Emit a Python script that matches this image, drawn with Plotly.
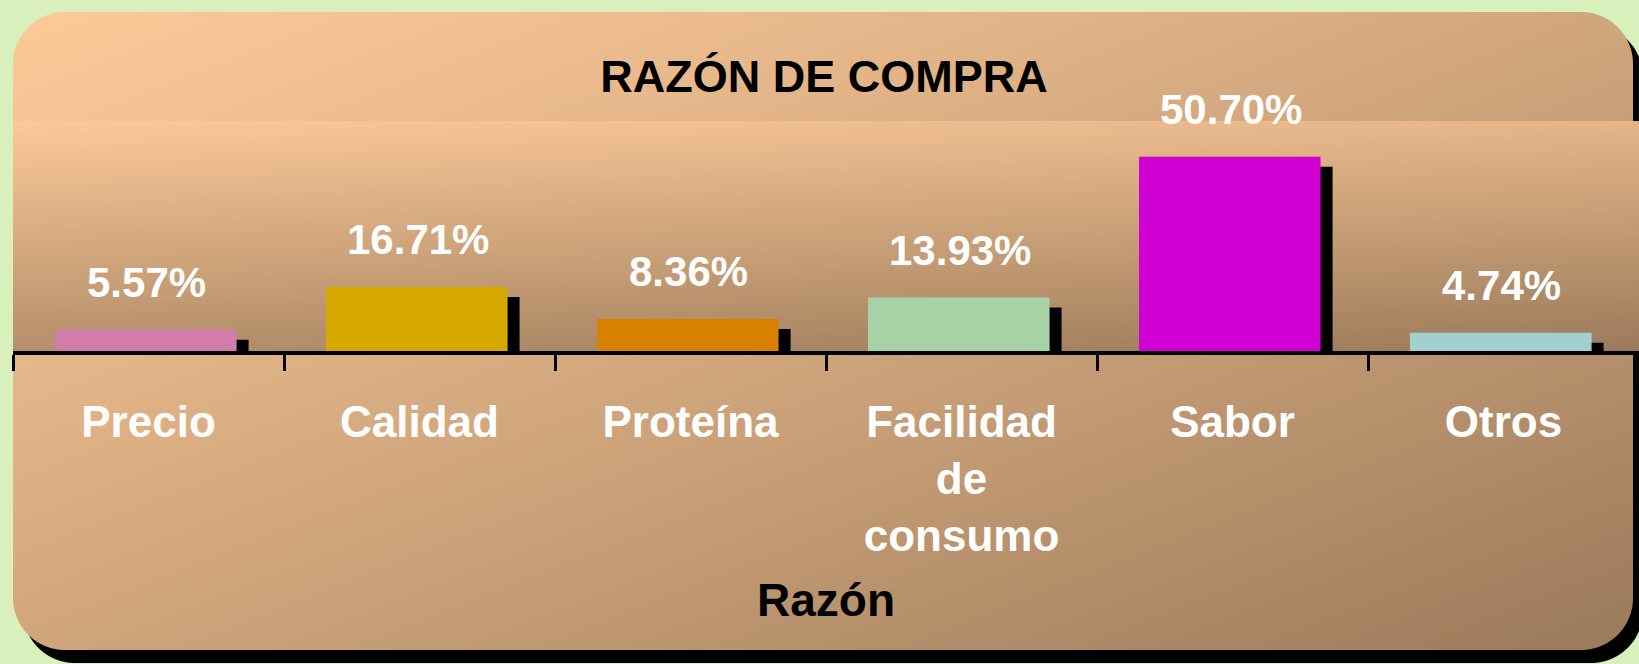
import base64
import struct
import zlib

import numpy as np
import plotly.graph_objects as go

# ---------------- data ----------------
categories = ["Precio", "Calidad", "Proteína", "Facilidad de consumo", "Sabor", "Otros"]
tick_labels = ["Precio", "Calidad", "Proteína", "Facilidad<br>de<br>consumo", "Sabor", "Otros"]
values = [5.57, 16.71, 8.36, 13.93, 50.70, 4.74]
value_labels = ["5.57%", "16.71%", "8.36%", "13.93%", "50.70%", "4.74%"]
bar_colors = ["#D27CAA", "#D6A800", "#D88000", "#A6D2A6", "#D000D4", "#A0D0D0"]

title_text = "RAZÓN DE COMPRA"
x_title = "Razón"

# ---------------- styling ----------------
W, H = 1639, 664
FONT = "Liberation Sans, Arial, sans-serif"
GREEN = (218, 240, 188)
C_LIGHT = np.array([252, 201, 152], dtype=float)
C_DARK = np.array([154, 122, 90], dtype=float)

PLOT_LEFT, PLOT_TOP, PLOT_BOTTOM = 13, 121, 351
Y_MAX = 60.0
px_per_unit = (PLOT_BOTTOM - PLOT_TOP) / Y_MAX
shadow_drop = 10 / px_per_unit          # shadow bar top is 10px lower
cat_px = (W - PLOT_LEFT) / len(categories)
shadow_dx = 12 / cat_px                 # shadow bar shifted 12px right
bar_w = 0.67
bar_off = -0.345


def png_data_uri(arr):
    h, w, _ = arr.shape
    raw = b"".join(b"\x00" + arr[i].tobytes() for i in range(h))

    def chunk(t, d):
        return struct.pack(">I", len(d)) + t + d + struct.pack(">I", zlib.crc32(t + d) & 0xFFFFFFFF)

    ihdr = struct.pack(">IIBBBBB", w, h, 8, 2, 0, 0, 0)
    png = b"\x89PNG\r\n\x1a\n" + chunk(b"IHDR", ihdr) + chunk(b"IDAT", zlib.compress(raw, 9)) + chunk(b"IEND", b"")
    return "data:image/png;base64," + base64.b64encode(png).decode()


def rrect_cov(X, Y, x0, y0, x1, y1, r):
    cx = np.clip(X, x0 + r, x1 - r)
    cy = np.clip(Y, y0 + r, y1 - r)
    d = np.hypot(X - cx, Y - cy)
    return np.clip(r - d + 0.5, 0, 1)[..., None]


ys, xs = np.mgrid[0:H, 0:W].astype(float)
X, Y = xs + 0.5, ys + 0.5
img = np.empty((H, W, 3), dtype=float)
img[:] = GREEN

# outer rounded box with shadow
ox0, oy0, ox1, oy1, rad = 13, 12, 1633, 650, 52
sh = rrect_cov(X, Y, ox0 + 10, oy0 + 13, ox1 + 10, oy1 + 13, rad)
img = img * (1 - sh)
t = ((X - ox0) / (ox1 - ox0) + (Y - oy0) / (oy1 - oy0)) / 2
t = np.clip(t, 0, 1) ** 1.15
grad = C_LIGHT + (C_DARK - C_LIGHT) * t[..., None]
cov = rrect_cov(X, Y, ox0, oy0, ox1, oy1, rad)
img = img * (1 - cov) + grad * cov

# inner panel (plot background)
px0, py0, px1, py1 = 13, 121, W, 355
t2 = 0.25 * (X - px0) / (px1 - px0) + 0.75 * (Y - py0) / (py1 - py0)
grad2 = C_LIGHT + (C_DARK - C_LIGHT) * np.clip(t2, 0, 1)[..., None]
mask = ((X >= px0) & (X <= px1) & (Y >= py0) & (Y <= py1))[..., None]
img = np.where(mask, grad2, img)

bg_uri = png_data_uri(np.clip(img, 0, 255).round().astype(np.uint8))

# ---------------- figure ----------------
fig = go.Figure()

fig.add_trace(go.Bar(
    x=categories, y=[v - shadow_drop for v in values],
    width=bar_w, offset=bar_off + shadow_dx,
    marker=dict(color="black", line=dict(width=0)),
    hoverinfo="skip", showlegend=False,
))
fig.add_trace(go.Bar(
    x=categories, y=values,
    width=bar_w, offset=bar_off,
    marker=dict(color=bar_colors, line=dict(width=0)),
    showlegend=False,
))

for c, v, lab in zip(categories, values, value_labels):
    fig.add_annotation(
        x=c, y=v, xref="x", yref="y", text=lab, showarrow=False,
        yanchor="middle", xanchor="center", yshift=47, xshift=-2,
        font=dict(family=FONT, size=42, color="white", weight="bold"),
    )

fig.add_annotation(
    x=826 / W, y=1 - 600 / H, xref="paper", yref="paper", text=x_title,
    showarrow=False, xanchor="center", yanchor="middle",
    font=dict(family=FONT, size=46, color="black", weight="bold"),
)

fig.update_layout(
    width=W, height=H,
    margin=dict(l=0, r=0, t=0, b=0),
    paper_bgcolor="rgb(218,240,188)",
    plot_bgcolor="rgba(0,0,0,0)",
    barmode="overlay",
    title=dict(
        text=title_text, x=824 / W, y=1 - 76 / H, xanchor="center", yanchor="middle",
        xref="paper", yref="paper",
        font=dict(family=FONT, size=45, color="black", weight="bold"),
    ),
    xaxis=dict(
        domain=[PLOT_LEFT / W, 1], type="category", range=[-0.5, 5.5],
        tickmode="array", tickvals=categories, ticktext=tick_labels,
        tickson="boundaries", ticks="outside", ticklen=16, tickwidth=3, tickcolor="black",
        showline=True, linecolor="black", linewidth=4, showgrid=False,
        tickfont=dict(family=FONT, size=44, color="white", weight="bold"),
        ticklabelstandoff=29,
    ),
    yaxis=dict(
        domain=[1 - PLOT_BOTTOM / H, 1 - PLOT_TOP / H], range=[0, Y_MAX],
        visible=False, showgrid=False,
    ),
    images=[dict(
        source=bg_uri, xref="paper", yref="paper", x=0, y=1, sizex=1, sizey=1,
        xanchor="left", yanchor="top", sizing="stretch", layer="below",
    )],
)

fig.write_html(
    "out.html",
    config={"displayModeBar": False},
    post_script="document.body.style.margin='0';document.body.style.overflow='hidden';"
                "document.body.style.background='rgb(218,240,188)';",
)
